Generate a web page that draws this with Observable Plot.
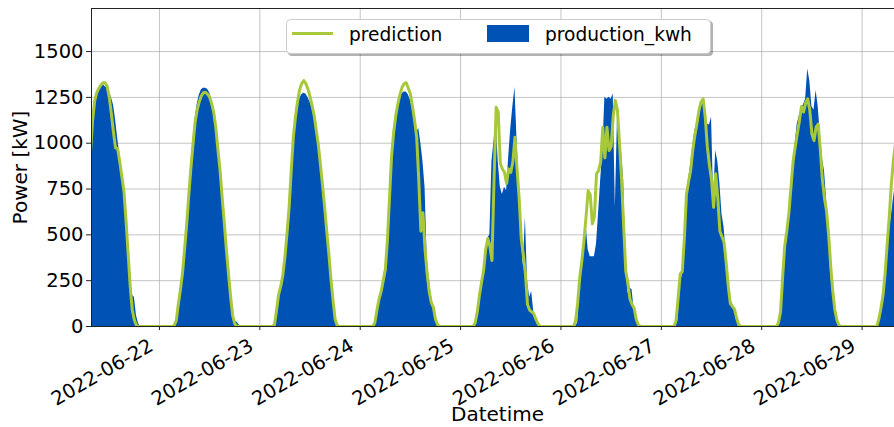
<!DOCTYPE html>
<html>
<head>
<meta charset="utf-8">
<script src="https://cdn.jsdelivr.net/npm/d3@7"></script>
<script src="https://cdn.jsdelivr.net/npm/@observablehq/plot@0.6"></script>
<style>
  html, body { margin: 0; padding: 0; background: #fff; }
  #wrap { position: relative; width: 894px; height: 427px; overflow: hidden; }
  #legend { position: absolute; left: 0; top: 0; pointer-events: none; }
</style>
</head>
<body>
<div id="wrap"></div>
<script>
// ---------- data (half-hourly) ----------
const dayDates = ["2022-06-21","2022-06-22","2022-06-23","2022-06-24","2022-06-25","2022-06-26","2022-06-27","2022-06-28","2022-06-29"];
const dayStartHour = [7.5, 3, 3, 3, 3, 3, 3, 3, 3];

const prod0621 = [980,1150,1240,1280,1300,1315,1320,1310,1300,1285,1250,1210,1130,1030,940,840,770,600,420,300,170,160,60,15,0];
const prod0622 = [0,10,40,130,210,300,430,570,730,880,1010,1130,1210,1260,1290,1300,1300,1295,1275,1240,1180,1100,990,870,730,590,440,300,170,70,30,25,10,0];
const prod0623 = [0,15,80,160,220,290,390,520,680,840,1000,1110,1190,1240,1265,1272,1268,1250,1225,1190,1150,1080,1000,900,790,670,540,400,260,140,40,20,5,0];
const prod0624 = [0,20,80,140,190,260,330,480,700,900,1040,1140,1200,1245,1270,1280,1280,1265,1235,1185,1125,1060,1080,1000,900,760,380,260,170,110,50,15,0,0];
const prod0625 = [0,15,70,150,230,300,420,480,500,900,1014,1124,900,760,720,760,740,923,1080,1200,1305,1014,780,500,330,596,250,160,190,80,40,15,0,0];
const prod0626 = [0,0,20,200,340,470,560,420,380,380,380,450,620,800,960,1251,1240,1251,1240,1269,650,1124,1070,950,796,350,180,210,200,90,50,15,0,0];
const prod0627 = [0,0,40,230,280,400,680,800,880,980,1070,1100,1142,1200,1242,1130,1105,1100,1142,700,960,900,780,614,540,400,220,142,125,100,50,15,5,0];
const prod0628 = [0,0,10,50,200,420,500,620,780,880,1000,1105,1150,1190,1210,1240,1405,1340,1200,1180,1287,1200,1050,920,850,700,500,280,170,110,50,15,5,0];
const prod0629 = [0,0,10,60,150,250,380,520,600,700,780];

const pred0621 = [950,1120,1230,1275,1300,1318,1330,1330,1310,1250,1160,1060,975,970,900,820,740,580,400,220,90,35,5,0];
const pred0622 = [0,5,30,120,200,290,420,555,715,860,990,1110,1180,1225,1258,1275,1278,1268,1251,1215,1165,1080,960,850,700,565,420,290,165,60,15,0,0,0];
const pred0623 = [0,10,90,175,220,280,380,510,650,850,1030,1140,1225,1290,1325,1342,1325,1295,1255,1205,1150,1070,990,880,770,650,520,398,260,142,40,5,0,0];
const pred0624 = [0,20,90,150,190,250,310,470,700,930,1060,1150,1215,1265,1305,1325,1330,1300,1269,1200,1124,1033,800,520,620,420,289,190,130,105,40,10,0,0];
const pred0625 = [0,20,80,170,240,305,420,480,440,360,800,1196,1170,889,860,840,780,860,840,900,1033,860,700,480,390,289,120,90,80,70,40,15,0,0];
const pred0626 = [0,30,130,270,360,470,600,740,720,560,600,833,850,900,1087,920,1087,960,980,1150,1233,1180,1000,800,542,300,240,150,120,100,40,10,0,0];
const pred0627 = [0,30,150,285,300,480,720,790,850,960,1040,1106,1180,1225,1242,1142,980,880,800,650,833,700,520,490,460,350,220,125,110,95,45,10,0,0];
const pred0628 = [0,0,20,80,270,440,520,620,760,900,978,1050,1120,1200,1170,1220,1242,1180,1050,1014,1087,1105,970,800,700,630,500,330,190,90,33,5,0,0];
const pred0629 = [0,0,40,100,170,289,450,600,780,910,1000];

const production = [prod0621,prod0622,prod0623,prod0624,prod0625,prod0626,prod0627,prod0628,prod0629];
const prediction = [pred0621,pred0622,pred0623,pred0624,pred0625,pred0626,pred0627,pred0628,pred0629];

const xTickLabels = ["2022-06-22","2022-06-23","2022-06-24","2022-06-25","2022-06-26","2022-06-27","2022-06-28","2022-06-29"];
const yTickValues = [0, 250, 500, 750, 1000, 1250, 1500];

// ---------- table ----------
const HOUR = 3600000;
const day0 = Date.parse(dayDates[0] + "T00:00:00Z");
const rows = [];
const tFirst = day0 + dayStartHour[0] * HOUR;
const tLast = Date.parse("2022-06-29T08:00:00Z");
for (let t = tFirst; t <= tLast; t += HOUR / 2) {
  const d = Math.floor((t - day0) / (24 * HOUR));
  const h = (t - day0 - d * 24 * HOUR) / HOUR;
  const i = Math.round((h - dayStartHour[d]) * 2);
  const p = i >= 0 ? (production[d][i] ?? 0) : 0;
  const q = i >= 0 ? (prediction[d][i] ?? 0) : 0;
  rows.push({time: new Date(t), production: p, prediction: q});
}

// ---------- layout ----------
const W = 894, H = 427;
const mL = 91, mR = 0, mT = 8, mB = 101;
const plotW = W - mL - mR, plotH = H - mT - mB;
const xDomain = [new Date("2022-06-21T07:45:00Z"), new Date("2022-06-29T07:45:00Z")];
const yMax = 1735;
const xTicks = xTickLabels.map(s => new Date(s + "T00:00:00Z"));
const BLUE = "#0052b4";
const GREEN = "#a8c83c";
const GRID = "#b0b0b0";
const FONT = "DejaVu Sans, sans-serif";
const TICK_FS = 19.5, TITLE_FS = 20;

const chart = Plot.plot({
  width: W, height: H,
  marginLeft: mL, marginRight: mR, marginTop: mT, marginBottom: mB,
  style: {fontFamily: FONT, fontSize: "19px", background: "white", color: "black", overflow: "visible"},
  x: {type: "utc", domain: xDomain, axis: null},
  y: {domain: [0, yMax], axis: null},
  marks: [
    Plot.ruleY(yTickValues, {y: d => d, stroke: GRID, strokeWidth: 1, strokeOpacity: 0.75}),
    Plot.ruleX(xTicks, {x: d => d, stroke: GRID, strokeWidth: 1, strokeOpacity: 0.75}),
    Plot.areaY(rows, {x: "time", y: "production", fill: BLUE, clip: true}),
    Plot.lineY(rows, {x: "time", y: "prediction", stroke: GREEN, strokeWidth: 3, clip: true}),
    // tick marks
    Plot.ruleX(xTicks, {x: d => d, stroke: "#222", insetTop: plotH, insetBottom: -4}),
    Plot.ruleY(yTickValues, {y: d => d, stroke: "#222", insetRight: plotW, insetLeft: -5}),
    // spines
    Plot.frame({stroke: "#222", strokeWidth: 1, insetRight: -3}),
    // tick labels
    Plot.text(yTickValues, {y: d => d, text: d => String(d), frameAnchor: "left", dx: -8, textAnchor: "end", lineAnchor: "middle", fontSize: TICK_FS, fill: "black"}),
    Plot.text(xTicks, {x: d => d, text: (d, i) => xTickLabels[i], frameAnchor: "bottom", dx: -12, dy: 11, rotate: -30, textAnchor: "end", lineAnchor: "top", fontSize: TICK_FS, fill: "black"}),
    // axis titles
    Plot.text(["Datetime"], {frameAnchor: "bottom", dx: 4.5, dy: 88, textAnchor: "middle", lineAnchor: "middle", fontSize: TITLE_FS, fill: "black"}),
    Plot.text(["Power [kW]"], {frameAnchor: "left", dx: -71, rotate: -90, textAnchor: "middle", lineAnchor: "middle", fontSize: TITLE_FS, fill: "black"})
  ]
});

const wrap = document.getElementById("wrap");
wrap.appendChild(chart);

// ---------- legend (drawn over the plot, like matplotlib) ----------
const legendItems = ["prediction", "production_kwh"];
const ns = "http://www.w3.org/2000/svg";
const lg = document.createElementNS(ns, "svg");
lg.setAttribute("id", "legend");
lg.setAttribute("width", W);
lg.setAttribute("height", 70);
lg.setAttribute("font-family", FONT);
lg.setAttribute("font-size", "18.6");
function el(name, attrs, text) {
  const e = document.createElementNS(ns, name);
  for (const k in attrs) e.setAttribute(k, attrs[k]);
  if (text) e.textContent = text;
  lg.appendChild(e);
  return e;
}
el("rect", {x: 288, y: 21, width: 425, height: 35, rx: 4, fill: "rgba(0,0,0,0.3)"});
el("rect", {x: 286.5, y: 19.5, width: 424, height: 34, rx: 4, fill: "white", stroke: "#cccccc", "stroke-width": 1});
el("line", {x1: 292, x2: 333, y1: 33.5, y2: 33.5, stroke: GREEN, "stroke-width": 3});
el("text", {x: 349, y: 40.5, fill: "black"}, legendItems[0]);
el("rect", {x: 487, y: 25, width: 42, height: 17, fill: BLUE});
el("text", {x: 545, y: 40.5, fill: "black"}, legendItems[1]);
wrap.appendChild(lg);
</script>
</body>
</html>
